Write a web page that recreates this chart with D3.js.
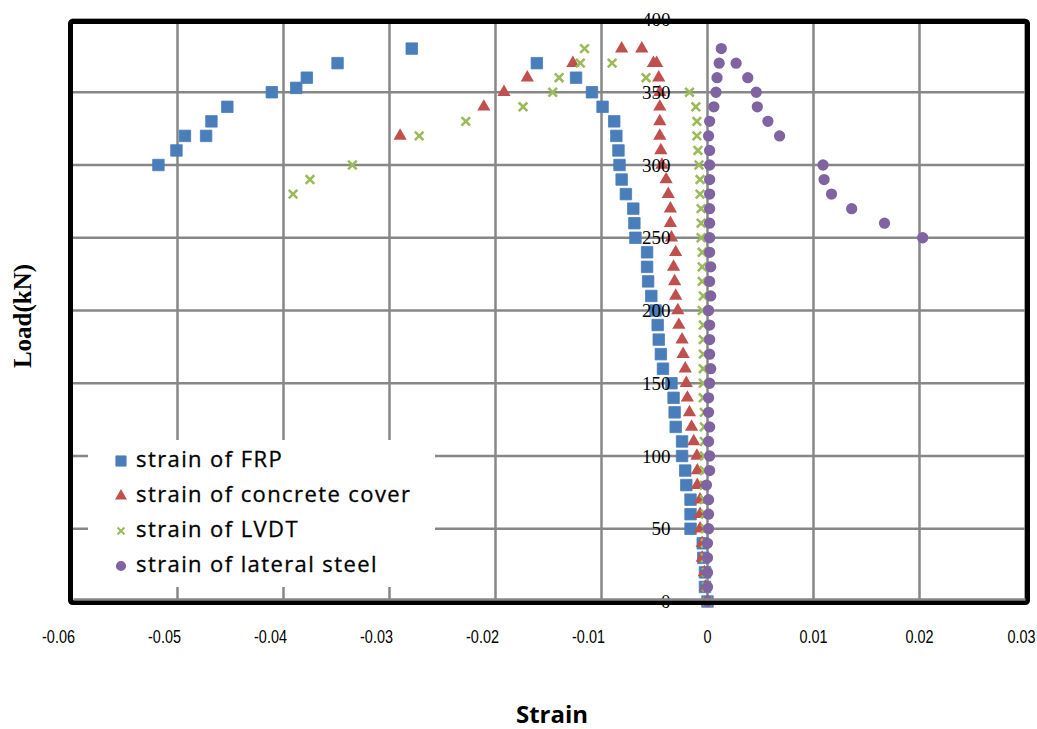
<!DOCTYPE html>
<html><head><meta charset="utf-8">
<script src="https://cdn.jsdelivr.net/npm/d3@7"></script>
<style>body{margin:0;background:#fff}svg{display:block}</style>
</head><body>
<svg id="c" width="1037" height="729"></svg>
<script>
// ---------------- data ----------------
const seriesNames = ["strain of FRP", "strain of concrete cover", "strain of LVDT", "strain of lateral steel"];

const frpLoad = [0,10,20,30,40,50,60,70,80,90,100,110,120,130,140,150,160,170,180,190,200,210,220,230,240,250,260,270,280,290,300,310,320,330,340,350,360,370,380,
  300,310,320,320,330,340,350,353,360,370];
const frpStrain = [0,-0.00024,-0.00024,-0.0004,-0.00045,-0.0016,-0.0016,-0.0016,-0.0020,-0.0021,-0.0024,-0.0024,-0.0030,-0.0031,-0.0032,-0.0034,-0.0042,-0.0044,-0.0046,-0.0047,-0.0049,-0.0053,-0.0056,-0.0057,-0.0057,-0.0068,-0.0069,-0.0070,-0.0077,-0.0081,-0.0083,-0.0084,-0.0086,-0.0088,-0.0099,-0.0109,-0.0124,-0.0161,-0.0279,
  -0.0518,-0.0501,-0.0493,-0.0473,-0.0468,-0.0453,-0.0411,-0.0388,-0.0378,-0.0349];

const concLoad = [0,10,20,30,40,50,60,70,80,90,100,110,120,130,140,150,160,170,180,190,200,210,220,230,240,250,260,270,280,290,300,310,320,330,340,350,360,370,370,380,380,
  320,340,350,360,370];
const concStrain = [0,-0.0002,-0.0003,-0.0005,-0.0005,-0.0007,-0.0007,-0.0007,-0.00096,-0.00096,-0.0010,-0.0013,-0.0015,-0.0017,-0.0019,-0.0020,-0.0021,-0.0023,-0.0024,-0.0027,-0.0028,-0.0030,-0.0031,-0.0032,-0.0030,-0.0034,-0.0035,-0.0035,-0.0037,-0.0039,-0.0043,-0.0044,-0.0045,-0.0045,-0.0045,-0.0045,-0.0046,-0.0048,-0.0051,-0.0062,-0.0081,
  -0.0290,-0.0211,-0.0192,-0.0170,-0.0127];

const lvdtLoad = [0,10,20,30,40,50,60,70,80,90,100,110,120,130,140,150,160,170,180,190,200,210,220,230,240,250,260,270,280,290,300,310,320,330,340,350,360,370,380,
  280,290,300,320,330,340,350,360,370];
const lvdtStrain = [0,-0.0001,-0.0001,-0.0002,-0.0002,-0.0002,-0.0002,-0.0003,-0.0003,-0.0003,-0.0003,-0.0003,-0.0003,-0.0003,-0.0004,-0.0004,-0.0004,-0.0004,-0.0004,-0.0004,-0.0005,-0.0004,-0.0005,-0.0005,-0.0005,-0.0006,-0.0006,-0.0006,-0.0007,-0.0007,-0.0008,-0.0009,-0.0010,-0.0010,-0.0011,-0.0017,-0.0058,-0.0090,-0.0116,
  -0.0391,-0.0375,-0.0335,-0.0272,-0.0228,-0.0174,-0.0146,-0.0140,-0.0120];

const steelLoad = [0,10,20,30,40,50,60,70,80,90,100,110,120,130,140,150,160,170,180,190,200,210,220,230,240,250,260,270,280,290,300,310,320,330,340,350,360,370,380,
  250,260,270,280,290,300,320,330,340,350,360,370];
const steelStrain = [0,0,0,0,0,0.0001,0.0001,0.0001,-0.0001,0.0002,0.0002,0.0001,0.0002,0.0001,0.0001,0.0002,0.0003,0.0002,0.0002,0.0002,0.0001,0.0003,0.0002,0.0003,0.0002,0.0002,0.0002,0.0002,0.0002,0.0002,0.0002,0.0002,0.0001,0.0002,0.0006,0.0008,0.0009,0.0011,0.0013,
  0.0203,0.0167,0.0136,0.0117,0.0110,0.0109,0.0068,0.0057,0.0047,0.0046,0.0038,0.0027];

const xTickValues = [-0.06,-0.05,-0.04,-0.03,-0.02,-0.01,0,0.01,0.02,0.03];
const xTickLabels = ["-0.06","-0.05","-0.04","-0.03","-0.02","-0.01","0","0.01","0.02","0.03"];
const yTickValues = [0,50,100,150,200,250,300,350,400];
const yTickLabels = ["0","50","100","150","200","250","300","350","400"];
const xTitle = "Strain";
const yTitle = "Load(kN)";

// ---------------- chart ----------------
const colors = ["#4a7ebb", "#c0504d", "#9bbb59", "#8064a2"];
const svg = d3.select("#c");
const x = d3.scaleLinear().domain([-0.06, 0.03]).range([71.5, 1025.5]);
const y = d3.scaleLinear().domain([0, 400]).range([601.5, 19.5]);

const grid = svg.append("g").attr("stroke", "#878787").attr("stroke-width", 2.5);
grid.selectAll("line.v").data(xTickValues).join("line").attr("class","v")
  .attr("x1", d => x(d)).attr("x2", d => x(d)).attr("y1", y(400)).attr("y2", y(0));
grid.selectAll("line.h").data(yTickValues).join("line").attr("class","h")
  .attr("x1", x(-0.06)).attr("x2", x(0.03)).attr("y1", d => y(d)).attr("y2", d => y(d));

// series
const zip = (a, b) => a.map((v, i) => ({load: v, strain: b[i]}));
const series = [zip(frpLoad, frpStrain), zip(concLoad, concStrain), zip(lvdtLoad, lvdtStrain), zip(steelLoad, steelStrain)];
const symSquare = d3.symbol().type(d3.symbolSquare).size(132)();
const symTri = d3.symbol().type(d3.symbolTriangle).size(76)();
const symCircle = d3.symbol().type(d3.symbolCircle).size(100)();
const symX = "M-4.3,-4.3L4.3,4.3M4.3,-4.3L-4.3,4.3";
const shapes = [symSquare, symTri, symX, symCircle];

function drawMarker(g, i) {
  const p = g.append("path").attr("d", shapes[i]);
  if (i === 2) p.attr("fill", "none").attr("stroke", colors[i]).attr("stroke-width", 2.6);
  else p.attr("fill", colors[i]);
  if (i === 0) p.attr("stroke", colors[i]).attr("stroke-width", 0.8).attr("stroke-linejoin", "round");
}
series.forEach((data, i) => {
  const g = svg.append("g");
  data.forEach(d => {
    const m = g.append("g").attr("transform", `translate(${x(d.strain)},${y(d.load)})`);
    drawMarker(m, i);
  });
});

// legend
const lg = svg.append("g");
lg.append("rect").attr("x", 88).attr("y", 440).attr("width", 347).attr("height", 147).attr("fill", "#fff");
seriesNames.forEach((name, i) => {
  const cy = 461 + i * 35;
  const m = lg.append("g").attr("transform", `translate(121,${cy})` + (i === 2 ? " scale(0.8)" : " scale(0.9)"));
  drawMarker(m, i);
  lg.append("text").attr("x", 136).attr("y", cy - 2).attr("dy", "0.35em")
    .attr("font-family", "'Open Sans', sans-serif").attr("font-size", 22).attr("letter-spacing", 1.4)
    .attr("fill", "#000").attr("stroke", "#000").attr("stroke-width", 0.3)
    .text(name);
});

// y tick labels (inside, left of x=0 axis)
svg.append("g").selectAll("text").data(yTickValues).join("text")
  .attr("x", x(0) - 37).attr("y", d => y(d)).attr("dy", "0.35em").attr("text-anchor", "end")
  .attr("font-family", "'Liberation Serif', 'Times New Roman', serif").attr("font-size", 19).attr("fill", "#000")
  .text((d, i) => yTickLabels[i]);

// border
svg.append("rect").attr("x", 70.5).attr("y", 21.5).attr("width", 957).attr("height", 581)
  .attr("fill", "none").attr("stroke", "#000").attr("stroke-width", 5).attr("rx", 2);
// x axis line (gray) at load 0
svg.append("line").attr("x1", x(-0.06) + 2).attr("x2", x(0.03)).attr("y1", y(0) - 2).attr("y2", y(0) - 2)
  .attr("stroke", "#878787").attr("stroke-width", 2.5);

// x tick labels (narrow, tall)
svg.append("g").selectAll("text").data(xTickValues).join("text")
  .attr("transform", d => `translate(${x(d) + (d < 0 ? -13 : 0) - (d === 0.03 ? 4 : 0)},643) scale(0.76,1)`)
  .attr("text-anchor", "middle")
  .attr("font-family", "'Liberation Sans', sans-serif")
  .attr("font-size", 19).attr("fill", "#000")
  .text((d, i) => xTickLabels[i]);

// titles
svg.append("text").attr("x", 552).attr("y", 723).attr("text-anchor", "middle")
  .attr("font-family", "'Open Sans', 'Liberation Sans', sans-serif").attr("font-weight", "bold").attr("font-size", 24)
  .text(xTitle);
svg.append("text").attr("transform", "translate(31,316) rotate(-90)").attr("text-anchor", "middle")
  .attr("font-family", "'Liberation Serif', 'Times New Roman', serif").attr("font-weight", "bold").attr("font-size", 25)
  .text(yTitle);
</script>
</body></html>
